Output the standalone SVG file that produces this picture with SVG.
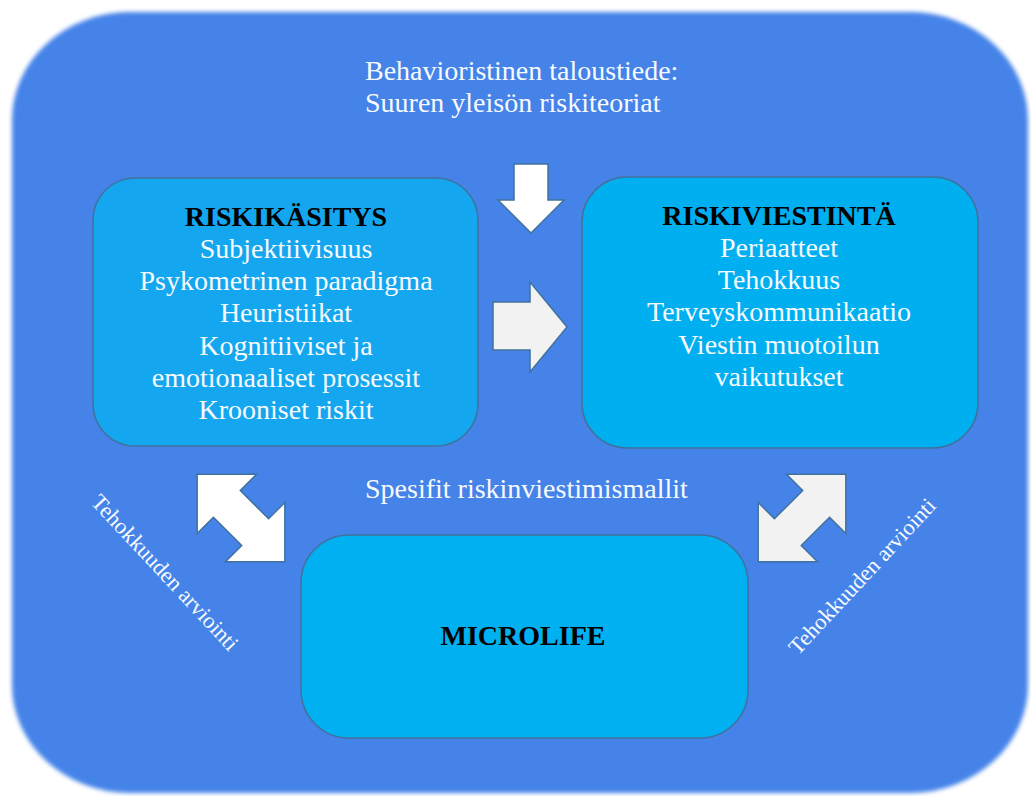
<svg xmlns="http://www.w3.org/2000/svg" width="1031" height="796" viewBox="0 0 1031 796">
  <defs>
    <filter id="soft" x="-5%" y="-5%" width="110%" height="110%">
      <feGaussianBlur stdDeviation="2"/>
    </filter>
    <style>
      .t { font-family: "Liberation Serif", "Times New Roman", serif; font-size: 28px; fill: #F7FBFF; }
      .h { font-family: "Liberation Serif", "Times New Roman", serif; font-size: 28px; font-weight: bold; fill: #000000; }
      .c { text-anchor: middle; }
      .r { font-family: "Liberation Serif", "Times New Roman", serif; font-size: 22.5px; fill: #F7FBFF; }
      .box { stroke: #41719C; stroke-width: 1.5; }
      .arr { stroke: #41719C; stroke-width: 1.5; stroke-linejoin: miter; }
    </style>
  </defs>
  <rect x="0" y="0" width="1031" height="796" fill="#FFFFFF"/>
  <g id="background">
    <rect x="12" y="12" width="1016" height="781" rx="118" ry="108" fill="#4583E8" filter="url(#soft)"/>
  </g>
  <g id="title">
    <text class="t" x="365" y="80">Behavioristinen taloustiede:</text>
    <text class="t" x="365" y="112">Suuren yleisön riskiteoriat</text>
  </g>
  <g id="riskikasitys">
    <rect class="box" x="93" y="178" width="385" height="268" rx="42" fill="#14A7EF"/>
    <text class="h c" x="286" y="226">RISKIKÄSITYS</text>
    <text class="t c" x="286" y="258">Subjektiivisuus</text>
    <text class="t c" x="286" y="290">Psykometrinen paradigma</text>
    <text class="t c" x="286" y="322">Heuristiikat</text>
    <text class="t c" x="286" y="355">Kognitiiviset ja</text>
    <text class="t c" x="286" y="387">emotionaaliset prosessit</text>
    <text class="t c" x="286" y="419">Krooniset riskit</text>
  </g>
  <g id="riskiviestinta">
    <rect class="box" x="582" y="177" width="396" height="271" rx="45" fill="#00AFF0"/>
    <text class="h c" x="779" y="225">RISKIVIESTINTÄ</text>
    <text class="t c" x="779" y="257">Periaatteet</text>
    <text class="t c" x="779" y="289">Tehokkuus</text>
    <text class="t c" x="779" y="321">Terveyskommunikaatio</text>
    <text class="t c" x="779" y="354">Viestin muotoilun</text>
    <text class="t c" x="779" y="386">vaikutukset</text>
  </g>
  <g id="microlife">
    <rect class="box" x="301" y="535" width="447" height="203" rx="48" fill="#00B0F0"/>
    <text class="h c" x="523" y="645">MICROLIFE</text>
  </g>
  <g id="labels">
    <text class="t" x="365" y="498">Spesifit riskinviestimismallit</text>
    <text class="r" transform="translate(90,503) rotate(47)">Tehokkuuden arviointi</text>
    <text class="r" transform="translate(798,656) rotate(-47)">Tehokkuuden arviointi</text>
  </g>
  <g id="connectors">
    <polygon class="arr" fill="#FFFFFF" points="514,164 548,164 548,200 564,200 531,233 498,200 514,200"/>
    <polygon class="arr" fill="#F2F2F2" points="493,302 530,302 530,282 567,327 530,372 530,350 493,350"/>
    <polygon class="arr" fill="#FFFFFF" transform="translate(241,518) rotate(45)" points="-62,0 -20,-42 -20,-19 20,-19 20,-42 62,0 20,42 20,19 -20,19 -20,42"/>
    <polygon class="arr" fill="#F2F2F2" transform="translate(802,518) rotate(-45)" points="-62,0 -20,-42 -20,-19 20,-19 20,-42 62,0 20,42 20,19 -20,19 -20,42"/>
  </g>
</svg>
